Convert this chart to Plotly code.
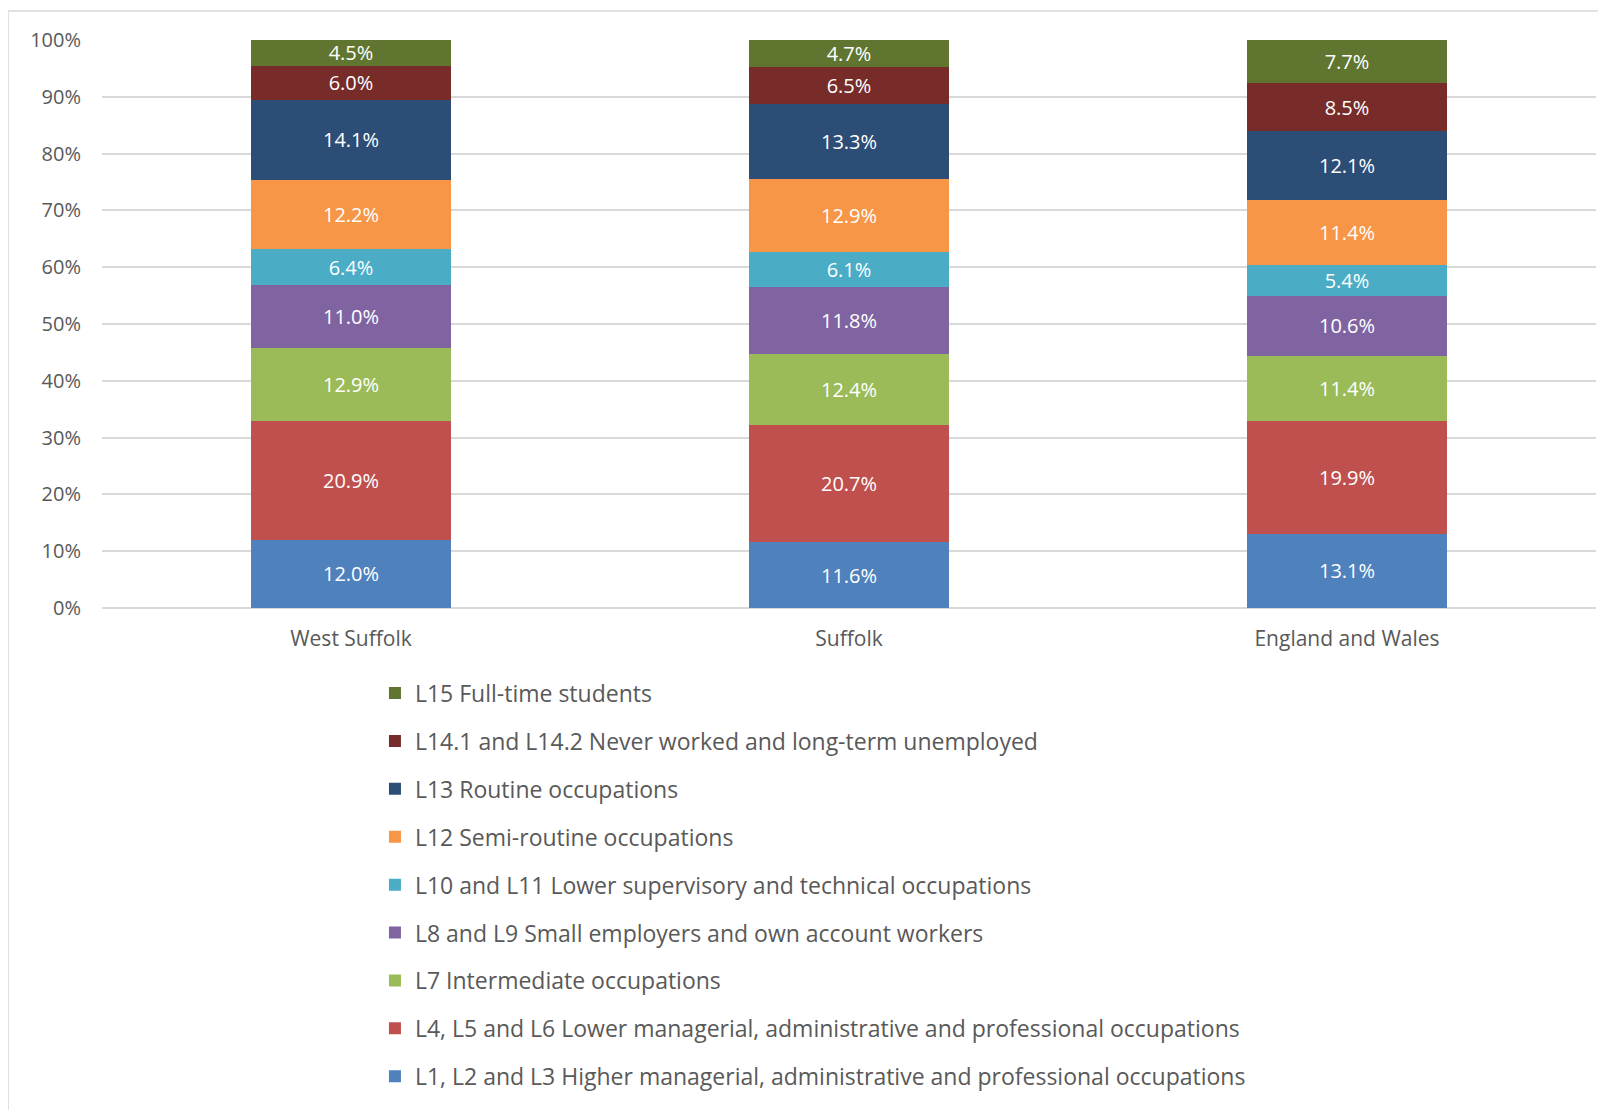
import plotly.graph_objects as go

categories = ["West Suffolk", "Suffolk", "England and Wales"]
series_names = [
    "L1, L2 and L3 Higher managerial, administrative and professional occupations",
    "L4, L5 and L6 Lower managerial, administrative and professional occupations",
    "L7 Intermediate occupations",
    "L8 and L9 Small employers and own account workers",
    "L10 and L11 Lower supervisory and technical occupations",
    "L12 Semi-routine occupations",
    "L13 Routine occupations",
    "L14.1 and L14.2 Never worked and long-term unemployed",
    "L15 Full-time students",
]
l1_l3 = [12.0, 11.6, 13.1]
l4_l6 = [20.9, 20.7, 19.9]
l7 = [12.9, 12.4, 11.4]
l8_l9 = [11.0, 11.8, 10.6]
l10_l11 = [6.4, 6.1, 5.4]
l12 = [12.2, 12.9, 11.4]
l13 = [14.1, 13.3, 12.1]
l14 = [6.0, 6.5, 8.5]
l15 = [4.5, 4.7, 7.7]
series_values = [l1_l3, l4_l6, l7, l8_l9, l10_l11, l12, l13, l14, l15]
colors = ["#4F81BD", "#C0504D", "#9BBB59", "#8064A2", "#4BACC6",
          "#F79646", "#2C4D75", "#772C2A", "#5F7530"]
y_ticks = [0, 10, 20, 30, 40, 50, 60, 70, 80, 90, 100]
y_tick_labels = [f"{v}%" for v in y_ticks]

FONT = "Open Sans"
TXT = "#595959"

fig = go.Figure()
n = len(series_names)
for i, (name, vals, col) in enumerate(zip(series_names, series_values, colors)):
    fig.add_trace(go.Bar(
        x=categories, y=vals, name=name,
        marker=dict(color=col, line=dict(width=0)),
        text=[f"{v:.1f}%" for v in vals],
        textposition="inside", insidetextanchor="middle",
        constraintext="none",
        textfont=dict(color="white", size=20, family=FONT),
        legendgroup=f"g{i}", legendrank=n - i,
        cliponaxis=True,
    ))

fig.update_layout(
    width=1606, height=1110,
    barmode="stack", bargap=0.6,
    paper_bgcolor="white", plot_bgcolor="white",
    margin=dict(l=94, r=18, t=32, b=510, autoexpand=False),
    font=dict(family=FONT, color=TXT, size=20),
    legend=dict(
        traceorder="grouped",
        x=0.1827, xanchor="left", y=-0.112, yanchor="top",
        font=dict(size=23, color=TXT, family=FONT),
        tracegroupgap=15, itemwidth=30,
        bgcolor="rgba(0,0,0,0)",
    ),
    xaxis=dict(showgrid=False, showline=False, ticks="", ticklabelstandoff=16,
               tickfont=dict(size=21, color=TXT)),
    yaxis=dict(range=[0, 100], tickvals=y_ticks, ticktext=y_tick_labels,
               showgrid=True, gridcolor="#D9D9D9", gridwidth=1.5,
               zeroline=True, zerolinecolor="#D9D9D9", zerolinewidth=1.5,
               showline=False, ticks="", ticklabelstandoff=20,
               tickfont=dict(size=20, color=TXT)),
    shapes=[
        dict(type="line", xref="paper", yref="paper", x0=-0.0629, x1=1.2,
             y0=1.051, y1=1.051, line=dict(color="#D9D9D9", width=1.5)),
        dict(type="line", xref="paper", yref="paper", x0=-0.0629, x1=-0.0629,
             y0=1.051, y1=-1.2, line=dict(color="#D9D9D9", width=1.5)),
    ],
)

fig.write_html("out.html")
